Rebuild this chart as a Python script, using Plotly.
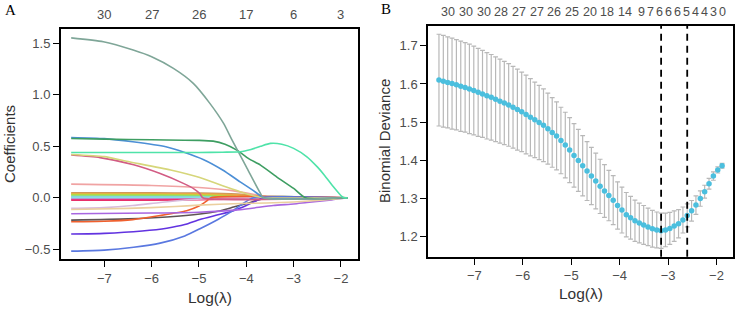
import plotly.graph_objects as go
import numpy as np

# ---------------- Panel A : coefficient paths ----------------
top_ticks_A = [-7, -6, -5, -4, -3, -2]
top_labels_A = ["30", "27", "26", "17", "6", "3"]

graygreen_x = [-7.70, -7.02, -6.39, -6.00, -5.54, -5.12, -4.77, -4.48, -4.30, -4.00, -3.71, -3.64, -1.86]
graygreen_y = [1.553, 1.515, 1.434, 1.369, 1.256, 1.111, 0.917, 0.722, 0.56, 0.30, 0.05, 0.0, 0.0]

darkgreen_x = [-7.70, -7.0, -6.0, -5.0, -4.7, -4.45, -4.2, -3.95, -3.7, -3.36, -3.0, -2.75, -1.86]
darkgreen_y = [0.576, 0.570, 0.563, 0.558, 0.550, 0.520, 0.463, 0.38, 0.317, 0.204, 0.091, 0.0, 0.0]

blue_x = [-7.70, -7.0, -6.4, -5.7, -5.3, -4.9, -4.5, -4.13, -3.85, -3.62, -1.86]
blue_y = [0.586, 0.575, 0.544, 0.495, 0.44, 0.37, 0.27, 0.155, 0.07, 0.0, 0.0]

mint_x = [-7.70, -6.0, -5.0, -4.5, -4.13, -3.9, -3.7, -3.49, -3.25, -3.0, -2.72, -2.5, -2.35, -2.16, -1.99, -1.93, -1.86]
mint_y = [0.44, 0.44, 0.44, 0.443, 0.447, 0.47, 0.50, 0.528, 0.52, 0.48, 0.398, 0.30, 0.22, 0.107, 0.017, 0.0, 0.0]

khaki_x = [-7.70, -7.0, -6.53, -5.6, -5.0, -4.7, -4.3, -4.0, -3.75, -3.6, -1.86]
khaki_y = [0.421, 0.40, 0.355, 0.27, 0.20, 0.15, 0.085, 0.04, 0.01, 0.0, 0.0]

pink_x = [-7.70, -7.09, -6.38, -5.82, -5.33, -5.1, -4.98, -4.92, -1.86]
pink_y = [0.415, 0.39, 0.32, 0.235, 0.14, 0.085, 0.04, 0.0, 0.0]

salmon_x = [-7.70, -6.0, -5.0, -4.3, -3.8, -3.45, -1.86]
salmon_y = [0.133, 0.12, 0.10, 0.07, 0.03, 0.0, 0.0]

brown_x = [-7.70, -6.0, -5.0, -4.2, -3.7, -3.35, -1.86]
brown_y = [0.049, 0.048, 0.045, 0.036, 0.018, 0.0, 0.0]

orange_x = [-7.70, -6.0, -5.0, -4.2, -3.75, -3.45, -1.86]
orange_y = [0.042, 0.041, 0.038, 0.028, 0.012, 0.0, 0.0]

gold_x = [-7.70, -6.0, -5.0, -4.3, -3.9, -3.6, -1.86]
gold_y = [0.035, 0.034, 0.030, 0.020, 0.008, 0.0, 0.0]

yellowgreen_x = [-7.70, -6.0, -5.0, -4.4, -4.0, -3.7, -1.86]
yellowgreen_y = [0.027, 0.026, 0.022, 0.014, 0.005, 0.0, 0.0]

lightgreen_x = [-7.70, -6.0, -5.0, -4.5, -4.1, -1.86]
lightgreen_y = [0.018, 0.017, 0.014, 0.008, 0.0, 0.0]

cyan_x = [-7.70, -5.0, -4.0, -3.5, -3.2, -2.9, -2.75, -1.86]
cyan_y = [0.002, 0.004, 0.008, 0.014, 0.015, 0.008, 0.0, 0.0]

sky_x = [-7.70, -6.0, -5.0, -4.5, -4.2, -1.86]
sky_y = [0.008, 0.007, 0.005, 0.002, 0.0, 0.0]

orchid_x = [-7.70, -6.0, -5.0, -4.5, -4.1, -1.86]
orchid_y = [-0.008, -0.008, -0.006, -0.003, 0.0, 0.0]

magenta_x = [-7.70, -6.0, -5.0, -4.4, -4.0, -1.86]
magenta_y = [-0.016, -0.016, -0.013, -0.007, 0.0, 0.0]

deeppink_x = [-7.70, -6.0, -5.0, -4.3, -3.9, -1.86]
deeppink_y = [-0.024, -0.023, -0.019, -0.010, 0.0, 0.0]

thistle_x = [-7.70, -7.0, -6.4, -5.82, -5.3, -4.77, -4.6, -1.86]
thistle_y = [-0.103, -0.095, -0.075, -0.045, -0.022, -0.006, 0.0, 0.0]

beige_x = [-7.70, -6.5, -5.5, -5.0, -4.13, -3.57, -3.0, -2.5, -2.1, -1.86]
beige_y = [-0.113, -0.103, -0.085, -0.071, -0.055, -0.05, -0.04, -0.025, -0.01, 0.0]

purple_x = [-7.70, -6.0, -5.0, -4.13, -3.43, -3.0, -2.72, -2.2, -1.86]
purple_y = [-0.155, -0.148, -0.14, -0.115, -0.075, -0.06, -0.045, -0.02, 0.0]

darkgray_x = [-7.70, -6.5, -5.68, -4.98, -4.6, -4.27, -3.99, -3.71, -3.55, -1.86]
darkgray_y = [-0.217, -0.205, -0.186, -0.158, -0.13, -0.09, -0.055, -0.016, 0.0, 0.0]

orangered_x = [-7.70, -7.0, -6.4, -5.82, -5.26, -5.0, -4.85, -4.75, -1.86]
orangered_y = [-0.233, -0.228, -0.212, -0.172, -0.125, -0.08, -0.035, 0.0, 0.0]

blueviolet_x = [-7.70, -7.0, -6.2, -5.68, -5.3, -4.98, -4.6, -4.27, -4.0, -3.75, -3.62, -1.86]
blueviolet_y = [-0.352, -0.345, -0.322, -0.295, -0.26, -0.21, -0.165, -0.125, -0.075, -0.02, 0.0, 0.0]

royalblue_x = [-7.70, -7.0, -6.38, -5.82, -5.3, -4.98, -4.6, -4.3, -4.05, -3.85, -1.86]
royalblue_y = [-0.518, -0.508, -0.48, -0.44, -0.37, -0.30, -0.21, -0.13, -0.05, 0.0, 0.0]

paths = [
    (brown_x, brown_y, "#C4955E"),
    (orange_x, orange_y, "#EDA348"),
    (gold_x, gold_y, "#D9C23F"),
    (yellowgreen_x, yellowgreen_y, "#A9DE45"),
    (lightgreen_x, lightgreen_y, "#86E07D"),
    (sky_x, sky_y, "#7FC8EE"),
    (orchid_x, orchid_y, "#D070D0"),
    (magenta_x, magenta_y, "#E0409A"),
    (deeppink_x, deeppink_y, "#E8306A"),
    (cyan_x, cyan_y, "#86E0E3"),
    (thistle_x, thistle_y, "#D8BCDC"),
    (salmon_x, salmon_y, "#F0A3A3"),
    (darkgray_x, darkgray_y, "#5E5454"),
    (orangered_x, orangered_y, "#F0602E"),
    (blueviolet_x, blueviolet_y, "#6233E0"),
    (royalblue_x, royalblue_y, "#5A78E0"),
    (purple_x, purple_y, "#A866E0"),
    (beige_x, beige_y, "#EBCF9E"),
    (pink_x, pink_y, "#D25C84"),
    (khaki_x, khaki_y, "#D6D67A"),
    (blue_x, blue_y, "#4C8FD6"),
    (darkgreen_x, darkgreen_y, "#3E9E62"),
    (graygreen_x, graygreen_y, "#7FA698"),
    (mint_x, mint_y, "#4FE3A9"),
]

# ---------------- Panel B : cross-validation ----------------
cv_loglam = [-7.730, -7.640, -7.550, -7.460, -7.370, -7.280, -7.190, -7.101, -7.011, -6.921,
             -6.831, -6.741, -6.651, -6.561, -6.471, -6.381, -6.291, -6.201, -6.111, -6.022,
             -5.932, -5.842, -5.752, -5.662, -5.572, -5.482, -5.392, -5.302, -5.212, -5.122,
             -5.032, -4.942, -4.853, -4.763, -4.673, -4.583, -4.493, -4.403, -4.313, -4.223,
             -4.133, -4.043, -3.953, -3.863, -3.774, -3.684, -3.594, -3.504, -3.414, -3.324,
             -3.234, -3.144, -3.054, -2.964, -2.874, -2.784, -2.694, -2.605, -2.515, -2.425,
             -2.335, -2.245, -2.155, -2.065, -1.975, -1.885]
cv_mean = [1.610, 1.607, 1.604, 1.601, 1.598, 1.594, 1.591, 1.587, 1.583, 1.578,
           1.574, 1.569, 1.565, 1.560, 1.555, 1.550, 1.545, 1.539, 1.533, 1.527,
           1.520, 1.513, 1.506, 1.499, 1.492, 1.483, 1.473, 1.464, 1.452, 1.440,
           1.427, 1.413, 1.400, 1.386, 1.372, 1.359, 1.346, 1.332, 1.320, 1.308,
           1.296, 1.282, 1.270, 1.258, 1.250, 1.242, 1.236, 1.231, 1.226, 1.221,
           1.218, 1.216, 1.218, 1.222, 1.228, 1.234, 1.244, 1.256, 1.268, 1.283,
           1.300, 1.318, 1.339, 1.359, 1.375, 1.386]
cv_se = [0.120, 0.120, 0.119, 0.119, 0.118, 0.118, 0.117, 0.117, 0.116, 0.115,
         0.114, 0.113, 0.112, 0.111, 0.110, 0.109, 0.108, 0.107, 0.106, 0.104,
         0.103, 0.101, 0.099, 0.097, 0.095, 0.093, 0.091, 0.089, 0.087, 0.086,
         0.085, 0.083, 0.081, 0.079, 0.077, 0.075, 0.073, 0.071, 0.069, 0.066,
         0.064, 0.062, 0.060, 0.058, 0.056, 0.054, 0.052, 0.051, 0.049, 0.048,
         0.047, 0.046, 0.044, 0.042, 0.040, 0.037, 0.034, 0.030, 0.027, 0.024,
         0.020, 0.017, 0.014, 0.011, 0.008, 0.006]
top_labels_B = ["30", "30", "30", "28", "27", "27", "26", "25", "20", "18", "14",
                "9", "7", "6", "6", "6", "5", "4", "4", "3", "0"]
top_pos_B = [-7.54, -7.175, -6.81, -6.446, -6.08, -5.715, -5.35, -4.986, -4.62, -4.256, -3.89,
             -3.555, -3.369, -3.184, -2.998, -2.813, -2.627, -2.442, -2.256, -2.071, -1.885]

W, H = 738, 310
TICK_COLOR = "#4D4D4D"
FONT = "Liberation Sans, Arial, sans-serif"

fig = go.Figure()
for xs, ys, col in paths:
    fig.add_trace(go.Scatter(x=xs, y=ys, mode="lines", xaxis="x", yaxis="y",
                             line=dict(color=col, width=1.6, shape="spline", smoothing=0.6),
                             hoverinfo="skip", showlegend=False))

fig.add_trace(go.Scatter(x=cv_loglam, y=cv_mean, mode="markers", xaxis="x2", yaxis="y2",
                         marker=dict(color="#4BBFDE", size=5.5),
                         error_y=dict(type="data", array=cv_se, visible=True,
                                      color="#B8B8B8", thickness=1.2, width=2.4),
                         hoverinfo="skip", showlegend=False))

# lambda.min and lambda.1se
mean_arr = np.array(cv_mean)
se_arr = np.array(cv_se)
imin = int(np.argmin(mean_arr))
thr = mean_arr[imin] + se_arr[imin]
i1se = max(i for i in range(len(cv_mean)) if mean_arr[i] <= thr)
for idx in (imin, i1se):
    fig.add_shape(type="line", xref="x2", yref="y2 domain", x0=cv_loglam[idx], x1=cv_loglam[idx],
                  y0=0, y1=1, line=dict(color="black", width=1.8, dash="7px,5px"))

axis_common = dict(showline=True, linecolor="black", linewidth=2, mirror=True,
                   ticks="outside", ticklen=6, tickwidth=1.3, tickcolor="black",
                   showgrid=False, zeroline=False, automargin=False,
                   tickfont=dict(family=FONT, size=13, color=TICK_COLOR))

xt = [-7, -6, -5, -4, -3, -2]
xtt = ["\u22127", "\u22126", "\u22125", "\u22124", "\u22123", "\u22122"]

fig.update_layout(
    width=W, height=H,
    margin=dict(l=0, r=0, t=0, b=0),
    paper_bgcolor="white", plot_bgcolor="white",
    xaxis=dict(domain=[61 / W, 358.3 / W], range=[-7.915, -1.634],
               tickvals=xt, ticktext=xtt, anchor="y", **axis_common),
    yaxis=dict(domain=[(H - 259.3) / H, (H - 29.3) / H], range=[-0.597, 1.636],
               tickvals=[-0.5, 0, 0.5, 1.0, 1.5],
               ticktext=["\u22120.5", "0.0", "0.5", "1.0", "1.5"], anchor="x", **axis_common),
    xaxis2=dict(domain=[428.3 / W, 733 / W], range=[-7.95, -1.66],
                tickvals=xt, ticktext=xtt, anchor="y2", **axis_common),
    yaxis2=dict(domain=[(H - 256.7) / H, (H - 26) / H], range=[1.148, 1.7516],
                tickvals=[1.2, 1.3, 1.4, 1.5, 1.6, 1.7],
                ticktext=["1.2", "1.3", "1.4", "1.5", "1.6", "1.7"], anchor="x2", **axis_common),
)

ann = []
ann.append(dict(text="A", x=10 / W, y=1 - 10 / H, xref="paper", yref="paper", showarrow=False,
                xanchor="center", yanchor="middle", font=dict(family="Liberation Serif, serif", size=15, color="black")))
ann.append(dict(text="B", x=386 / W, y=1 - 9.5 / H, xref="paper", yref="paper", showarrow=False,
                xanchor="center", yanchor="middle", font=dict(family="Liberation Serif, serif", size=15, color="black")))
ann.append(dict(text="Coefficients", x=9 / W, y=1 - 144 / H, xref="paper", yref="paper", showarrow=False,
                textangle=-90, xanchor="center", yanchor="middle", font=dict(family=FONT, size=15, color="#333333")))
ann.append(dict(text="Binomial Deviance", x=384 / W, y=1 - 141 / H, xref="paper", yref="paper", showarrow=False,
                textangle=-90, xanchor="center", yanchor="middle", font=dict(family=FONT, size=15, color="#333333")))
ann.append(dict(text="Log(\u03bb)", x=209.5 / W, y=1 - 297 / H, xref="paper", yref="paper", showarrow=False,
                xanchor="center", yanchor="middle", font=dict(family=FONT, size=15.5, color="#333333")))
ann.append(dict(text="Log(\u03bb)", x=580.5 / W, y=1 - 293 / H, xref="paper", yref="paper", showarrow=False,
                xanchor="center", yanchor="middle", font=dict(family=FONT, size=15.5, color="#333333")))
for xv, lab in zip(top_ticks_A, top_labels_A):
    ann.append(dict(text=lab, x=xv, y=1 - 15 / H, xref="x", yref="paper", showarrow=False,
                    xanchor="center", yanchor="middle", font=dict(family=FONT, size=13, color=TICK_COLOR)))
for xv, lab in zip(top_pos_B, top_labels_B):
    ann.append(dict(text=lab, x=xv, y=1 - 11.7 / H, xref="x2", yref="paper", showarrow=False,
                    xanchor="center", yanchor="middle", font=dict(family=FONT, size=12.5, color=TICK_COLOR)))
fig.update_layout(annotations=ann)

fig.write_html("out.html")
